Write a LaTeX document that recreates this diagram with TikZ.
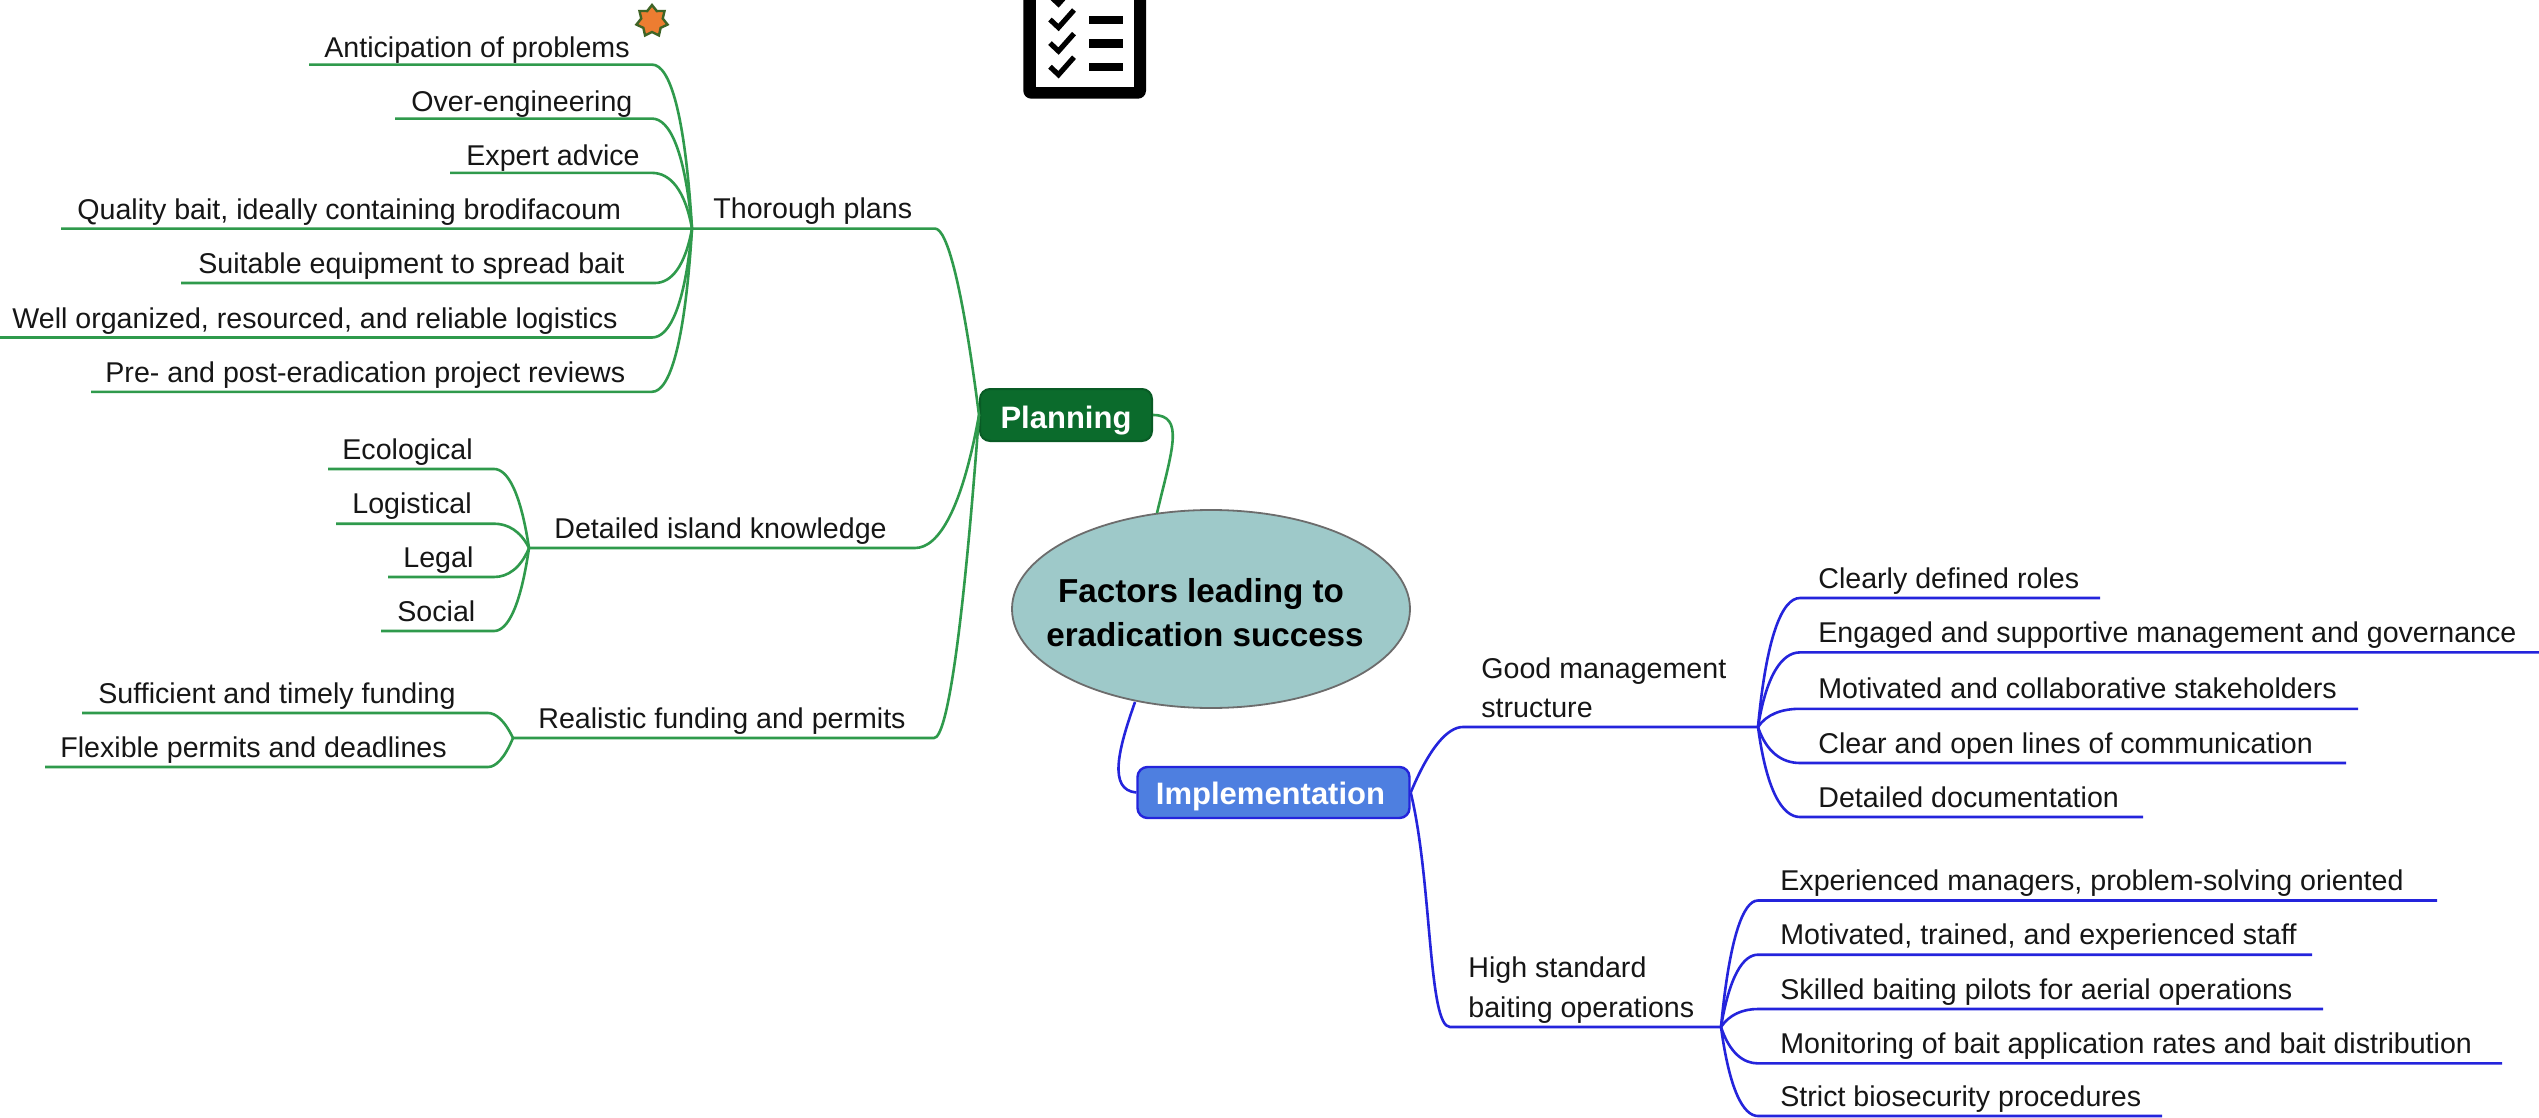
\documentclass[tikz,border=0pt]{standalone}
\usepackage{fontspec}
\setmainfont{Liberation Sans}
\usetikzlibrary{calc,shapes.geometric}
\definecolor{gline}{HTML}{2F9A4C}
\definecolor{bline}{HTML}{2424DC}
\definecolor{pfill}{HTML}{0B6B2C}
\definecolor{ifill}{HTML}{4E7FE0}
\definecolor{efill}{HTML}{9EC9C9}
\definecolor{txtc}{HTML}{161616}
\definecolor{starf}{HTML}{ED7D31}
\definecolor{stard}{HTML}{3F6426}
\tikzset{
 gl/.style={draw=gline,line width=1.3pt},
 bl/.style={draw=bline,line width=1.3pt},
 txt/.style={anchor=base west,inner sep=0pt,text=txtc,font=\fontsize{14.3}{17}\selectfont},
 boxn/.style={rectangle,rounded corners=5pt,inner sep=0pt,text=white,font=\fontsize{15.5}{18}\bfseries\selectfont},
 mainn/.style={inner sep=0pt,anchor=base,font=\fontsize{16.6}{19}\bfseries\selectfont,text=black},
}
\def\tdy{10}
% style, hub, name, textx, joinx, farx, y, text
\newcommand\leaf[8][gl]{%
 \node[txt] (#3) at (#4,#7-\tdy) {#8};
 \coordinate (#3j) at (#5,#7);
 \coordinate (#3e) at (#6,#7);
 \draw[#1] (#2) .. controls ($(#2)!.7!(#2c|-#3j)$) and ($(#3j)!.6!(#2c|-#3j)$) .. (#3j) -- (#3e);
}
\begin{document}
\begin{tikzpicture}[x=.5pt,y=-.5pt]
\clip (0,0) rectangle (2539,1118);
\fill[white] (0,0) rectangle (2539,1118);
% central nodes
\node[ellipse,draw=gray!85!black,line width=.9pt,fill=efill,minimum width=199pt,minimum height=99pt,inner sep=0pt] (main) at (1211,609) {};
\node[mainn] (m1) at (1201,602) {Factors leading to};
\node[mainn] (m2) at (1205,646) {eradication success};
\node[boxn,fill=pfill,draw=pfill!85!black,line width=1pt,minimum width=86pt,minimum height=26pt,text height=13pt,text depth=0pt] (plan) at (1066,415) {Planning};
\node[boxn,fill=ifill,draw=bline,line width=1.2pt,minimum width=136pt,minimum height=25.5pt,text height=11.5pt,text depth=0pt] (impl) at (1273.5,792.5) {Implementation\kern3pt};
% central connectors
\coordinate (mt) at (1157,513);
\coordinate (mb) at (1135,702);
\draw[gl] (plan.east) .. controls (1185,415) and (1172,450) .. (mt);
\draw[bl] (mb) .. controls (1118,750) and (1108,790) .. (impl.west);
% hubs
\coordinate (hP) at (plan.west);
\coordinate (hPc) at (955,415);
\coordinate (hI) at (impl.east);
\coordinate (hIc) at (1438,793);
\coordinate (hT) at (692,228.6);
\coordinate (hTc) at (682,228.6);
\coordinate (hD) at (529,548);
\coordinate (hDc) at (517,548);
\coordinate (hR) at (513,738);
\coordinate (hRc) at (501,738);
\coordinate (hG) at (1758,727);
\coordinate (hGc) at (1770,727);
\coordinate (hH) at (1721,1027);
\coordinate (hHc) at (1733,1027);
% second level
\leaf{hP}{thorough}{713}{935}{692}{228.6}{Thorough plans}
\leaf{hP}{detailed}{554}{915}{529}{548}{Detailed island knowledge}
\leaf{hP}{realistic}{538}{934}{513}{738}{Realistic funding and permits}
\leaf[bl]{hI}{good}{1481}{1463}{1758}{727}{structure}
\node[txt] (good2) at (1481,678) {Good management};
\node[txt] (high) at (1468,1017) {baiting operations};
\node[txt] (high2) at (1468,977) {High standard};
\coordinate (highj) at (1450,1027);
\draw[bl] (hI) .. controls (1432,880) and (1428,1027) .. (highj) -- (hH);
% Thorough plans
\def\tdy{7}
\leaf{hT}{a}{324}{652}{309}{64.6}{Anticipation of problems}
\leaf{hT}{b}{411}{652}{395}{118.6}{Over-engineering}
\leaf{hT}{c}{466}{652}{450}{172.9}{Expert advice}
\def\tdy{9}
\leaf{hT}{d}{77}{652}{61}{228.6}{Quality bait, ideally containing brodifacoum}
\leaf{hT}{e}{198}{655}{181}{283}{Suitable equipment to spread bait}
\leaf{hT}{f}{12}{652}{0}{337.5}{Well organized, resourced, and reliable logistics}
\leaf{hT}{g}{105}{652}{91}{391.8}{Pre- and post-eradication project reviews}
\def\tdy{10}
% Detailed island knowledge
\leaf{hD}{h}{342}{494}{328}{469}{Ecological}
\leaf{hD}{i}{352}{494}{336}{523.7}{Logistical}
\leaf{hD}{j}{403}{494}{388}{577}{Legal}
\leaf{hD}{k}{397}{494}{381}{631}{Social}
% Realistic funding and permits
\leaf{hR}{l}{98}{488}{82}{713}{Sufficient and timely funding}
\leaf{hR}{m}{60}{488}{45}{767}{Flexible permits and deadlines}
% Good management structure
\leaf[bl]{hG}{n}{1818}{1800}{2100}{598}{Clearly defined roles}
\leaf[bl]{hG}{o}{1818}{1800}{2539}{652.4}{Engaged and supportive management and governance}
\leaf[bl]{hG}{p}{1818}{1800}{2358}{708.8}{Motivated and collaborative stakeholders}
\leaf[bl]{hG}{q}{1818}{1800}{2346}{763}{Clear and open lines of communication}
\leaf[bl]{hG}{r}{1818}{1800}{2143}{817}{Detailed documentation}
% High standard baiting operations
\leaf[bl]{hH}{s}{1780}{1758}{2437}{900.5}{Experienced managers, problem-solving oriented}
\leaf[bl]{hH}{t}{1780}{1758}{2312}{954.7}{Motivated, trained, and experienced staff}
\leaf[bl]{hH}{u}{1780}{1758}{2323}{1009}{Skilled baiting pilots for aerial operations}
\leaf[bl]{hH}{v}{1780}{1758}{2502}{1063.4}{Monitoring of bait application rates and bait distribution}
\leaf[bl]{hH}{w}{1780}{1758}{2162}{1116}{Strict biosecurity procedures}
% star
\node[star,star points=7,star point ratio=1.45,fill=starf,draw=stard,line width=1.2pt,minimum size=16pt,inner sep=0pt] (flag) at (652,21) {};
% checklist icon
\fill[black,rounded corners=4pt] (1023.3,-30) rectangle (1146,98.7);
\fill[white] (1035.7,-30) rectangle (1134.3,86.7);
\foreach \dy in {-23.6,0,23.6,47.2}{
 \draw[black,line width=2.6pt] (1050,19.5+\dy) -- (1058.5,27.5+\dy) -- (1074,10+\dy);
 \fill[black] (1089,15.8+\dy) rectangle (1123,24+\dy);
}
\end{tikzpicture}
\end{document}
